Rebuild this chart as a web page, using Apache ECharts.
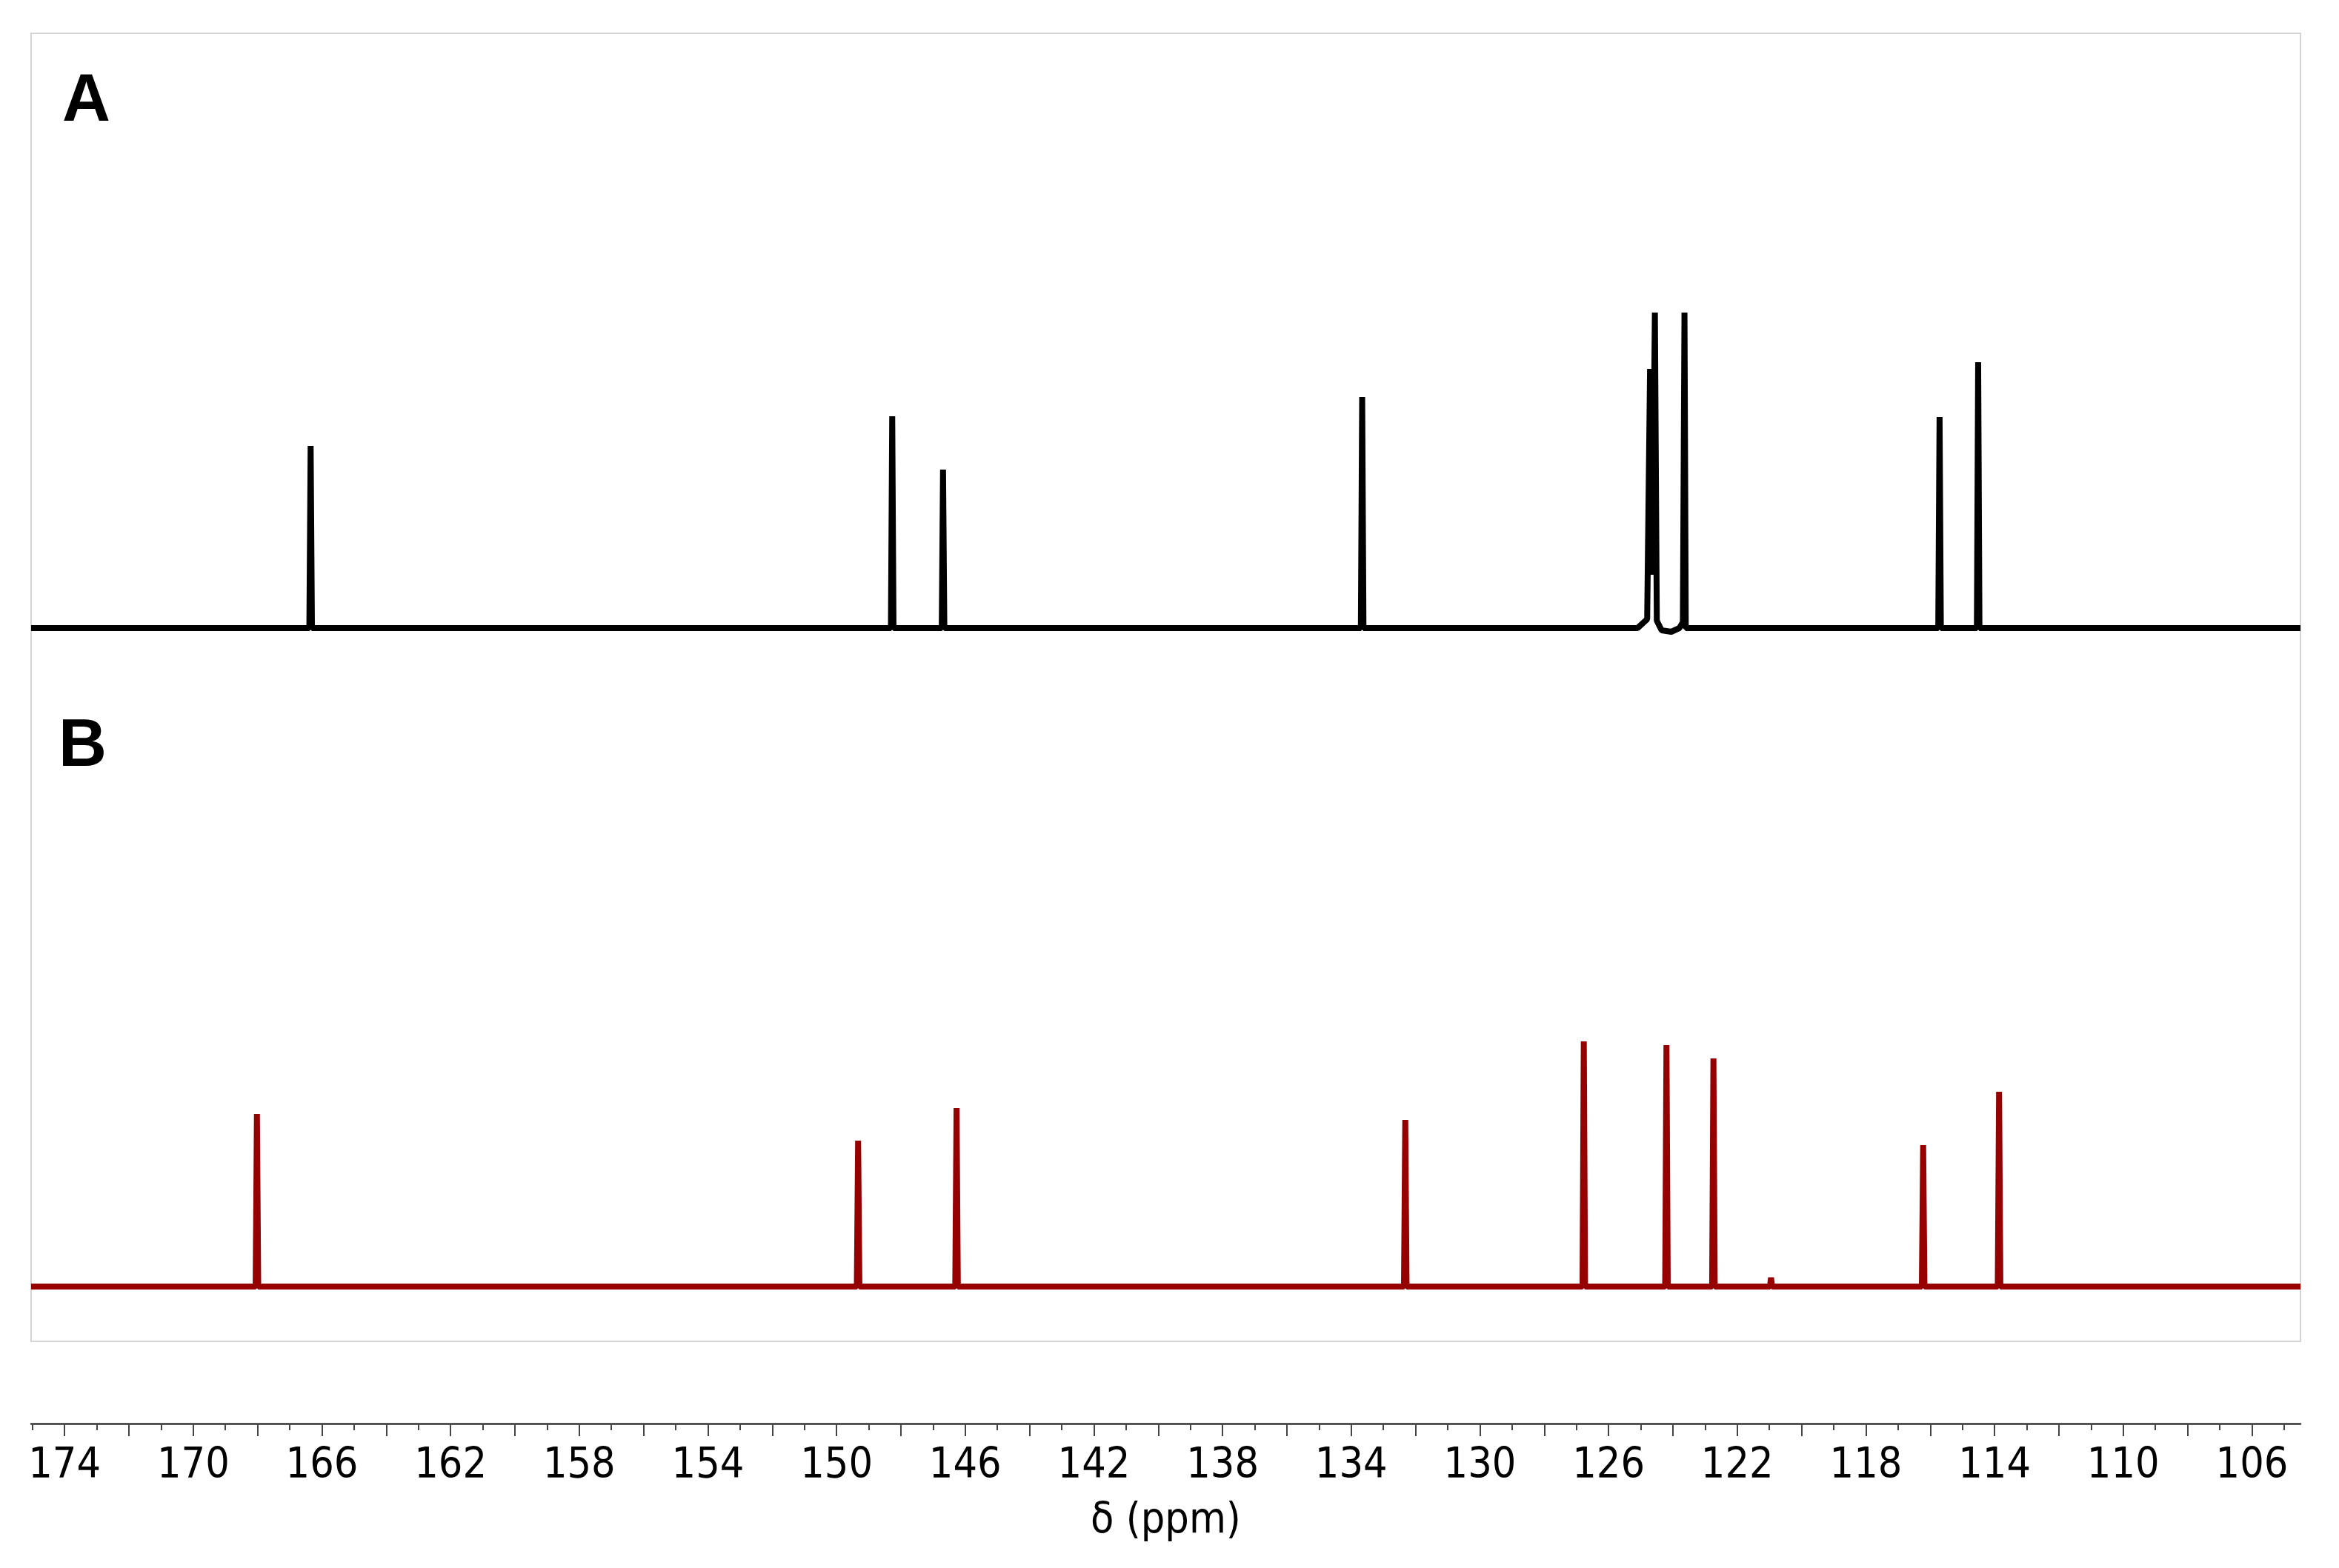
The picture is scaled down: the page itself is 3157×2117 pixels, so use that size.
<!DOCTYPE html>
<html>
<head>
<meta charset="utf-8">
<script src="https://cdn.jsdelivr.net/npm/echarts@6/dist/echarts.min.js"></script>
<style>
html,body{margin:0;padding:0;background:#fff;}
#chart{width:3157px;height:2117px;}
</style>
</head>
<body>
<div id="chart"></div>
<script>
// Chemical-shift range shown (ppm), left edge to right edge
const ppmRange = [175.04, 104.49];

// Tick labels and tick positions (ppm)
const tickLabels = [174,170,166,162,158,154,150,146,142,138,134,130,126,122,118,114,110,106];
const majorTicks = [174,172,170,168,166,164,162,160,158,156,154,152,150,148,146,144,142,140,138,136,134,132,130,128,126,124,122,120,118,116,114,112,110,108,106];
const minorTicks = [175,173,171,169,167,165,163,161,159,157,155,153,151,149,147,145,143,141,139,137,135,133,131,129,127,125,123,121,119,117,115,113,111,109,107,105];

// Spectrum A: trace vertices [ppm, relative intensity]
const spectrumA = [
  [175.04, 0],
  [166.39, 0], [166.35, 246], [166.31, 0],
  [148.31, 0], [148.27, 286], [148.23, 0],
  [146.73, 0], [146.69, 214], [146.65, 0],
  [133.70, 0], [133.66, 312], [133.62, 0],
  [125.10, 0], [124.80, 12], [124.71, 350], [124.64, 72], [124.56, 426], [124.50, 10],
  [124.35, -3], [124.05, -5], [123.80, 0], [123.69, 8], [123.64, 426], [123.60, 0],
  [115.75, 0], [115.71, 285], [115.67, 0],
  [114.55, 0], [114.51, 359], [114.47, 0],
  [104.49, 0]
];

// Spectrum B: trace vertices [ppm, relative intensity]
const spectrumB = [
  [175.04, 0],
  [168.06, 0], [168.02, 233], [167.98, 0],
  [149.37, 0], [149.33, 197], [149.29, 0],
  [146.31, 0], [146.27, 241], [146.23, 0],
  [132.36, 0], [132.32, 225], [132.28, 0],
  [126.81, 0], [126.77, 331], [126.73, 0],
  [124.24, 0], [124.20, 326], [124.16, 0],
  [122.78, 0], [122.74, 308], [122.70, 0],
  [120.98, 0], [120.95, 12], [120.92, 0],
  [116.26, 0], [116.22, 191], [116.18, 0],
  [113.90, 0], [113.86, 263], [113.82, 0],
  [104.49, 0]
];

const panelLabels = ['A', 'B'];
const axisTitle = 'δ (ppm)';

const chart = echarts.init(document.getElementById('chart'), null, {renderer: 'canvas'});

const FRAME = {left: 42, top: 45, width: 3063, height: 1766};
const labelFont = '"DejaVu Sans Condensed", "Liberation Sans", sans-serif';

function hiddenX(gridIndex) {
  return {
    type: 'value', gridIndex: gridIndex, inverse: true,
    min: ppmRange[1], max: ppmRange[0], show: false
  };
}
function hiddenY(gridIndex) {
  return {type: 'value', gridIndex: gridIndex, min: -100, max: 700, show: false};
}

const option = {
  animation: false,
  backgroundColor: '#ffffff',
  grid: [
    {left: FRAME.left, top: FRAME.top, width: FRAME.width, height: FRAME.height,
     show: true, borderColor: '#d4d4d4', borderWidth: 2, backgroundColor: 'transparent'},
    {left: FRAME.left, top: 148, width: FRAME.width, height: 800},
    {left: FRAME.left, top: 1037, width: FRAME.width, height: 800}
  ],
  xAxis: [
    {
      type: 'value', gridIndex: 0, inverse: true,
      min: ppmRange[1], max: ppmRange[0],
      position: 'bottom', offset: 111,
      splitLine: {show: false},
      axisLine: {show: true, onZero: false, lineStyle: {color: '#333333', width: 2.5}},
      axisTick: {show: true, customValues: majorTicks, length: 17, lineStyle: {color: '#444444', width: 2}},
      axisLabel: {
        show: true, customValues: tickLabels, margin: 30,
        fontSize: 57, color: '#000000', fontFamily: labelFont
      },
      name: axisTitle, nameLocation: 'middle', nameGap: 104,
      nameTextStyle: {fontSize: 57, color: '#000000', fontFamily: labelFont}
    },
    {
      type: 'value', gridIndex: 0, inverse: true,
      min: ppmRange[1], max: ppmRange[0],
      position: 'bottom', offset: 111,
      splitLine: {show: false},
      axisLine: {show: false, onZero: false},
      axisTick: {show: true, customValues: minorTicks, length: 9, lineStyle: {color: '#444444', width: 2}},
      axisLabel: {show: false}
    },
    hiddenX(1),
    hiddenX(2)
  ],
  yAxis: [
    {type: 'value', gridIndex: 0, show: false, min: 0, max: 1},
    hiddenY(1),
    hiddenY(2)
  ],
  series: [
    {
      name: 'A', type: 'line', xAxisIndex: 2, yAxisIndex: 1,
      data: spectrumA, symbol: 'none', showSymbol: false, clip: false,
      lineStyle: {color: '#000000', width: 8, join: 'bevel'}
    },
    {
      name: 'B', type: 'line', xAxisIndex: 3, yAxisIndex: 2,
      data: spectrumB, symbol: 'none', showSymbol: false, clip: false,
      lineStyle: {color: '#970000', width: 8, join: 'bevel'}
    }
  ],
  graphic: [
    {type: 'text', left: 84, top: 93, style: {text: panelLabels[0], font: 'bold 90px "Liberation Sans", Arial, sans-serif', fill: '#000000'}},
    {type: 'text', left: 79, top: 964, style: {text: panelLabels[1], font: 'bold 90px "Liberation Sans", Arial, sans-serif', fill: '#000000'}}
  ]
};

chart.setOption(option);
</script>
</body>
</html>
